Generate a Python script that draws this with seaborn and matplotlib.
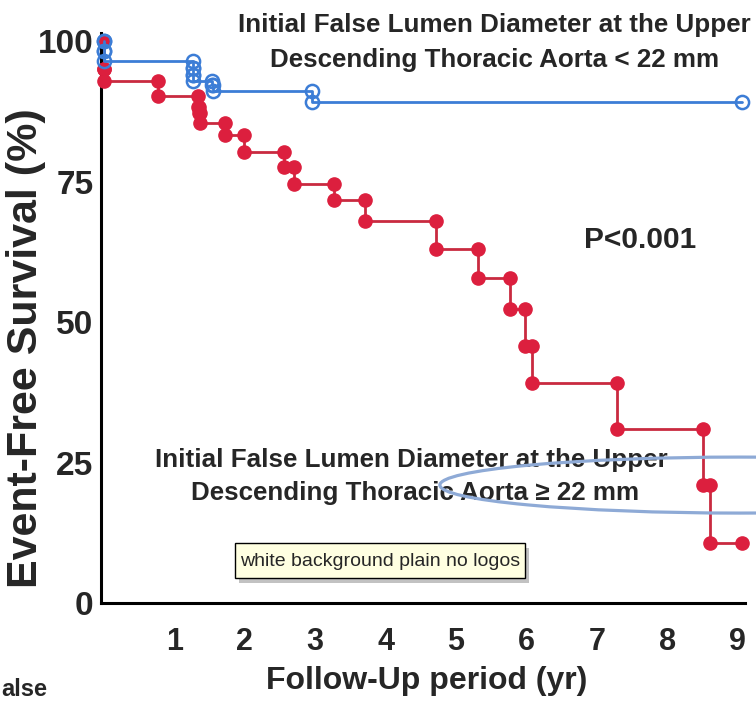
import numpy as np
import pandas as pd
import matplotlib
matplotlib.use("Agg")
import matplotlib.pyplot as plt
from matplotlib.patches import Ellipse, Rectangle
import seaborn as sns

# Kaplan-Meier style data (time in years, level after each event in %)
red_times = [0, 0, 0.77, 1.33, 1.35, 1.36, 1.72, 1.99, 2.56, 2.70, 3.27, 3.71,
             4.72, 5.31, 5.77, 5.98, 6.08, 7.29, 8.51, 8.61]
red_levels = [95.0, 92.9, 90.2, 88.4, 87.2, 85.4, 83.4, 80.3, 77.6, 74.7, 71.8, 68.0,
              63.1, 57.9, 52.4, 45.8, 39.1, 31.0, 21.0, 10.7]
red_end = 9.06

blue_times = [0, 0, 1.27, 1.27, 1.27, 1.53, 1.55, 2.96]
blue_levels = [98.3, 96.6, 95.2, 94.0, 93.0, 92.2, 91.2, 89.2]
blue_end = 9.06

x_ticks = [1, 2, 3, 4, 5, 6, 7, 8, 9]
y_ticks = [0, 25, 50, 75, 100]


def km_points(times, levels, end_time, start=100.0):
    xs, ys = [0.0], [start]
    prev = start
    for t, s in zip(times, levels):
        xs += [t, t]
        ys += [prev, s]
        prev = s
    xs.append(end_time)
    ys.append(prev)
    return pd.DataFrame({"time": xs, "surv": ys})


red_df = km_points(red_times, red_levels, red_end)
blue_df = km_points(blue_times, blue_levels, blue_end)

sns.set_style("white")
plt.rcParams["font.family"] = ["Liberation Sans", "DejaVu Sans"]
plt.rcParams["font.weight"] = "bold"

fig = plt.figure(figsize=(7.56, 7.02), dpi=100)
ax = fig.add_axes([0.133, 0.141, 0.852, 0.812])

red = "#dc1f3e"
blue = "#3c7dd6"

sns.lineplot(data=red_df, x="time", y="surv", sort=False, estimator=None, ax=ax,
             color="#c92a40", linewidth=2.0, marker="o", markersize=9.5,
             markerfacecolor=red, markeredgecolor=red, markeredgewidth=1.0,
             clip_on=False, zorder=3)
sns.lineplot(data=blue_df, x="time", y="surv", sort=False, estimator=None, ax=ax,
             color=blue, linewidth=2.0, marker="o", markersize=9.5,
             markerfacecolor="none", markeredgecolor=blue, markeredgewidth=1.8,
             clip_on=False, zorder=4)

ax.set_xlim(-0.05, 9.1)
ax.set_ylim(0, 101.5)
ax.set_xticks(x_ticks)
ax.set_yticks(y_ticks)
ax.set_xticklabels([str(v) for v in x_ticks], fontsize=22, fontweight="bold")
ax.set_yticklabels([str(v) for v in y_ticks], fontsize=24, fontweight="bold")
ax.tick_params(axis="x", length=8, width=2, pad=9, direction="out")
ax.tick_params(axis="y", length=4, width=2, pad=1, direction="out")

for side in ["top", "right"]:
    ax.spines[side].set_visible(False)
for side in ["left", "bottom"]:
    ax.spines[side].set_linewidth(2.2)
    ax.spines[side].set_color("black")

ax.set_xlabel("Follow-Up period (yr)", fontsize=23, fontweight="bold")
ax.set_ylabel("Event-Free Survival (%)", fontsize=31, fontweight="bold")
ax.xaxis.set_label_coords(0.507, -0.11)
ax.yaxis.set_label_coords(-0.115, 0.447)
ax.yaxis.label.set_va("center")

# group annotations
ax.text(5.55, 102.9, "Initial False Lumen Diameter at the Upper", ha="center", va="center",
        fontsize=18.7, fontweight="bold", clip_on=False)
ax.text(5.55, 96.7, "Descending Thoracic Aorta < 22 mm", ha="center", va="center",
        fontsize=18.7, fontweight="bold", clip_on=False)
ax.text(4.36, 25.5, "Initial False Lumen Diameter at the Upper", ha="center", va="center",
        fontsize=18.7, fontweight="bold")
ax.text(4.42, 19.6, "Descending Thoracic Aorta \u2265 22 mm", ha="center", va="center",
        fontsize=18.7, fontweight="bold")
ax.text(7.61, 64.6, "P<0.001", ha="center", va="center", fontsize=21.5, fontweight="bold")

# hand-drawn highlight ellipse
ax.add_patch(Ellipse((9.03, 21.0), 8.52, 9.97, fill=False, edgecolor="#8eaad6",
                     linewidth=2.3, zorder=6, clip_on=False))

# tooltip-like box
fig.add_artist(Rectangle((239 / 756, 1 - 583 / 702), 290 / 756, 35 / 702,
                         transform=fig.transFigure, facecolor="#9a9a9a", edgecolor="none",
                         alpha=0.6, zorder=7))
fig.add_artist(Rectangle((235 / 756, 1 - 578 / 702), 290 / 756, 35 / 702,
                         transform=fig.transFigure, facecolor="#ffffe1", edgecolor="black",
                         linewidth=1.0, zorder=8))
fig.text(380 / 756, 1 - 561 / 702, "white background plain no logos", ha="center", va="center",
         fontsize=14, fontweight="normal", zorder=9)

fig.text(1 / 756, 1 - 690 / 702, "alse", ha="left", va="center", fontsize=17, fontweight="bold")

fig.savefig("out.png", dpi=100)
